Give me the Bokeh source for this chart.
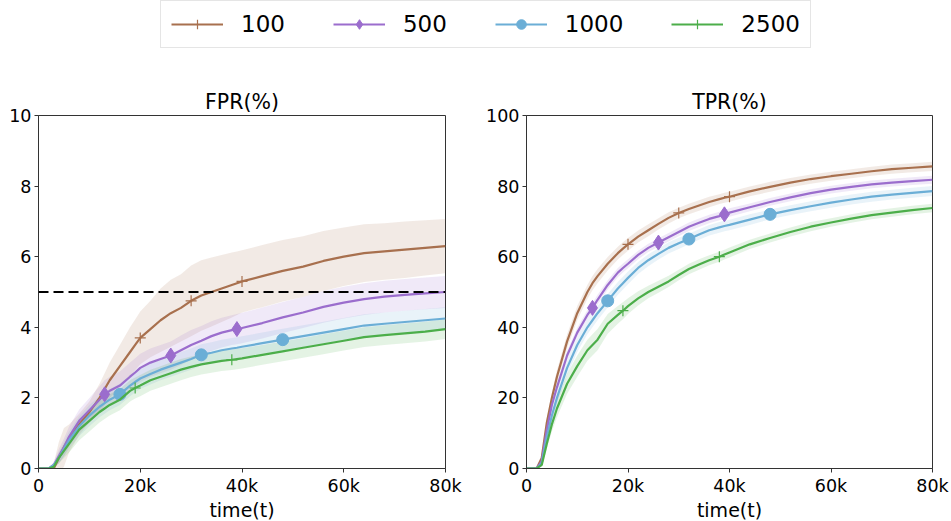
from bokeh.plotting import figure
from bokeh.layouts import column, row
from bokeh.models import Legend, LegendItem, FixedTicker, Span, Range1d
from bokeh.embed import file_html
from bokeh.resources import INLINE

# ---------------- data ----------------
T = [0, 2000, 3000, 4000, 5000, 6000, 8000, 10000, 12000, 13000, 14000, 16000, 18000, 19000,
     20000, 22000, 24000, 26000, 28000, 30000, 32000, 34000, 36000, 38000, 39000, 40000,
     44000, 48000, 52000, 56000, 60000, 64000, 68000, 72000, 76000, 80000]

SERIES = ["100", "500", "1000", "2500"]
COLORS = ["#a8704e", "#9b6dcd", "#6baed6", "#4cae4a"]
MARKERS = ["cross", "diamond", "circle", "cross"]
MARKER_SIZES = [11, 15, 12, 11]
LEGEND_MARKER_SIZES = [14, 20, 15, 14]
MARK_T = [[20000, 30000, 40000], [13000, 26000, 39000], [16000, 32000, 48000], [19000, 38000]]

FPR_100 = [0, 0, 0, 0.3, 0.6, 0.85, 1.25, 1.6, 2.0, 2.25, 2.5, 2.9, 3.3, 3.5, 3.7, 3.95, 4.2, 4.4,
           4.55, 4.75, 4.9, 5.0, 5.1, 5.2, 5.25, 5.3, 5.45, 5.6, 5.72, 5.88, 6.0, 6.1, 6.15, 6.2, 6.25, 6.3]
FPR_100_ERR = [0, 0, 0.15, 0.45, 0.55, 0.4, 0.3, 0.3, 0.4, 0.45, 0.5, 0.6, 0.7, 0.72, 0.75, 0.8, 0.9,
               0.95, 0.95, 1.0, 1.0, 0.98, 0.95, 0.92, 0.9, 0.88, 0.88, 0.87, 0.86, 0.85, 0.83, 0.82,
               0.8, 0.8, 0.78, 0.77]
FPR_500 = [0, 0, 0.1, 0.35, 0.6, 0.9, 1.35, 1.65, 1.95, 2.1, 2.2, 2.35, 2.6, 2.72, 2.85, 3.0, 3.1, 3.2,
           3.35, 3.5, 3.62, 3.75, 3.85, 3.92, 3.95, 3.98, 4.12, 4.28, 4.42, 4.58, 4.7, 4.8, 4.87, 4.92,
           4.96, 5.0]
FPR_500_ERR = [0, 0, 0.1, 0.2, 0.25, 0.28, 0.32, 0.35, 0.38, 0.4, 0.4, 0.4, 0.4, 0.4, 0.4, 0.4, 0.4,
               0.4, 0.42, 0.42, 0.42, 0.42, 0.42, 0.42, 0.43, 0.43, 0.44, 0.44, 0.44, 0.45, 0.45, 0.45,
               0.45, 0.45, 0.45, 0.45]
FPR_1000 = [0, 0, 0.1, 0.3, 0.55, 0.8, 1.2, 1.5, 1.75, 1.85, 1.95, 2.1, 2.35, 2.45, 2.55, 2.68, 2.8,
            2.9, 3.0, 3.1, 3.22, 3.28, 3.35, 3.4, 3.42, 3.45, 3.55, 3.65, 3.75, 3.85, 3.95, 4.05, 4.1,
            4.15, 4.2, 4.25]
FPR_1000_ERR = [0, 0, 0.05, 0.15, 0.2, 0.25, 0.28, 0.3, 0.3, 0.3, 0.3, 0.3, 0.3, 0.3, 0.3, 0.3, 0.3,
                0.3, 0.3, 0.3, 0.3, 0.3, 0.3, 0.3, 0.3, 0.3, 0.3, 0.31, 0.31, 0.31, 0.31, 0.32, 0.32,
                0.32, 0.32, 0.32]
FPR_2500 = [0, 0, 0.05, 0.3, 0.5, 0.7, 1.1, 1.35, 1.6, 1.7, 1.8, 1.95, 2.2, 2.28, 2.35, 2.5, 2.6, 2.7,
            2.8, 2.88, 2.95, 3.0, 3.05, 3.08, 3.1, 3.12, 3.22, 3.32, 3.42, 3.52, 3.62, 3.72, 3.78,
            3.83, 3.88, 3.95]
FPR_2500_ERR = [0, 0, 0.05, 0.15, 0.2, 0.25, 0.3, 0.3, 0.3, 0.3, 0.3, 0.3, 0.3, 0.3, 0.3, 0.3, 0.3,
                0.3, 0.3, 0.29, 0.29, 0.29, 0.29, 0.29, 0.29, 0.29, 0.28, 0.28, 0.28, 0.28, 0.28, 0.28,
                0.28, 0.28, 0.28, 0.28]

TPR_100 = [0, 0, 3, 13, 20, 26, 36, 44, 50, 52.5, 54.5, 58, 61, 62.3, 63.5, 65.7, 67.5, 69.3, 71, 72.4,
           73.5, 74.5, 75.5, 76.3, 76.7, 77, 78.5, 79.8, 81, 82, 82.8, 83.5, 84.2, 84.8, 85.2, 85.6]
TPR_100_ERR = [0, 0, 0.5, 1.2, 1.5, 1.8, 2, 2, 2, 2, 2, 1.9, 1.8, 1.8, 1.8, 1.7, 1.7, 1.6, 1.6, 1.5,
               1.5, 1.5, 1.5, 1.4, 1.4, 1.4, 1.4, 1.4, 1.3, 1.3, 1.3, 1.3, 1.3, 1.3, 1.3, 1.3]
TPR_500 = [0, 0, 2, 11, 18, 23, 32, 38.5, 43.5, 45.5, 47.8, 52, 55.5, 56.8, 58, 60.5, 62.5, 64, 65.5,
           67, 68.5, 69.6, 70.7, 71.5, 72, 72.5, 74, 75.5, 76.8, 78, 79, 79.8, 80.5, 81, 81.4, 81.8]
TPR_500_ERR = [0, 0, 0.5, 1, 1.2, 1.3, 1.4, 1.4, 1.4, 1.4, 1.4, 1.3, 1.3, 1.3, 1.3, 1.2, 1.2, 1.2,
               1.2, 1.2, 1.2, 1.2, 1.2, 1.2, 1.2, 1.2, 1.1, 1.1, 1.1, 1.1, 1.1, 1.1, 1.1, 1.1, 1.1, 1.1]
TPR_1000 = [0, 0, 1.5, 9, 15, 20, 28.5, 35, 40, 42, 44, 47.5, 51, 52.5, 54, 56.8, 59, 60.8, 62.5, 63.8,
            65, 66.3, 67.5, 68.3, 68.7, 69, 70.5, 72, 73.2, 74.3, 75.3, 76.2, 77, 77.6, 78.1, 78.6]
TPR_1000_ERR = [0, 0, 0.5, 1.2, 1.5, 1.8, 2, 2, 2, 2, 2, 1.9, 1.8, 1.8, 1.8, 1.7, 1.7, 1.6, 1.6, 1.6,
                1.5, 1.5, 1.5, 1.5, 1.5, 1.5, 1.5, 1.4, 1.4, 1.4, 1.4, 1.4, 1.4, 1.4, 1.4, 1.4]
TPR_2500 = [0, 0, 1, 7, 12.5, 17, 24, 29, 33.5, 35, 36.5, 41, 43.5, 44.7, 46, 48.2, 50, 51.5, 53, 54.8,
            56.5, 57.8, 59, 60, 60.6, 61.2, 63.5, 65.3, 67, 68.5, 69.7, 70.8, 71.8, 72.5, 73.2, 73.8]
TPR_2500_ERR = [0, 0, 0.5, 1.5, 2, 2.5, 2.8, 3, 3, 3, 3, 2.8, 2.5, 2.4, 2.2, 2, 1.8, 1.7, 1.6, 1.5,
                1.5, 1.5, 1.4, 1.4, 1.4, 1.4, 1.3, 1.3, 1.3, 1.3, 1.2, 1.2, 1.2, 1.2, 1.2, 1.2]

FPR = [FPR_100, FPR_500, FPR_1000, FPR_2500]
FPR_ERR = [FPR_100_ERR, FPR_500_ERR, FPR_1000_ERR, FPR_2500_ERR]
TPR = [TPR_100, TPR_500, TPR_1000, TPR_2500]
TPR_ERR = [TPR_100_ERR, TPR_500_ERR, TPR_1000_ERR, TPR_2500_ERR]

X_TICKS = [0, 20000, 40000, 60000, 80000]
X_TICK_LABELS = ["0", "20k", "40k", "60k", "80k"]
FPR_TICKS = [0, 2, 4, 6, 8, 10]
TPR_TICKS = [0, 20, 40, 60, 80, 100]
FPR_THRESHOLD = 5

FONT = "DejaVu Sans"
FRAME_H = 353


def style(p, yticks):
    p.xgrid.visible = False
    p.ygrid.visible = False
    p.outline_line_color = "#333333"
    p.outline_line_width = 1
    p.outline_line_alpha = 1
    p.title.align = "center"
    p.title.text_font = FONT
    p.title.text_font_size = "20.5px"
    p.title.text_font_style = "normal"
    p.title.text_color = "black"
    p.title.standoff = 3
    p.xaxis.ticker = FixedTicker(ticks=X_TICKS)
    p.xaxis.major_label_overrides = {t: l for t, l in zip(X_TICKS, X_TICK_LABELS)}
    p.yaxis.ticker = FixedTicker(ticks=yticks)
    p.xaxis.axis_label = "time(t)"
    for ax in (p.xaxis[0], p.yaxis[0]):
        ax.major_label_text_font = FONT
        ax.major_label_text_font_size = "17.5px"
        ax.major_label_text_color = "black"
        ax.axis_label_text_font = FONT
        ax.axis_label_text_font_size = "19px"
        ax.axis_label_text_font_style = "normal"
        ax.axis_label_text_color = "black"
        ax.axis_label_standoff = 0
        ax.major_label_standoff = 3
        ax.major_tick_out = 4
        ax.major_tick_in = 0
        ax.minor_tick_line_color = None
        ax.axis_line_color = "#333333"
        ax.major_tick_line_color = "#333333"


def make_panel(title, ymax, yticks, vals, errs, fw, mbl, mbr, threshold=None):
    p = figure(frame_width=fw, frame_height=FRAME_H, x_range=Range1d(0, 80000), y_range=Range1d(0, ymax),
               output_backend="svg", toolbar_location=None, title=title,
               min_border_left=mbl, min_border_right=mbr, min_border_top=51, min_border_bottom=53)
    style(p, yticks)
    for i in range(len(SERIES)):
        lo = [v - e for v, e in zip(vals[i], errs[i])]
        hi = [v + e for v, e in zip(vals[i], errs[i])]
        p.varea(x=T, y1=lo, y2=hi, fill_color=COLORS[i], fill_alpha=0.15)
    for i in range(len(SERIES)):
        p.line(T, vals[i], line_color=COLORS[i], line_width=2.2)
        mx = [t for t in T if t in MARK_T[i]]
        my = [v for t, v in zip(T, vals[i]) if t in MARK_T[i]]
        if MARKERS[i] == "cross":
            p.scatter(mx, my, marker="cross", size=MARKER_SIZES[i], line_color=COLORS[i], line_width=1.2)
        else:
            p.scatter(mx, my, marker=MARKERS[i], size=MARKER_SIZES[i], fill_color=COLORS[i],
                      line_color=COLORS[i], line_width=1)
    if threshold is not None:
        p.add_layout(Span(location=threshold, dimension="width", line_color="black",
                          line_dash="10 5", line_width=2))
    return p


p1 = make_panel("FPR(%)", 10, FPR_TICKS, FPR, FPR_ERR, 407, 38, 35, threshold=FPR_THRESHOLD)
p2 = make_panel("TPR(%)", 100, TPR_TICKS, TPR, TPR_ERR, 406, 46, 19)

# legend figure
LEG_H = 64
lf = figure(width=951, height=LEG_H, x_range=Range1d(0, 1), y_range=Range1d(0, 1),
            output_backend="svg", toolbar_location=None, min_border=0)
lf.axis.visible = False
lf.grid.visible = False
lf.outline_line_color = None
items = []
for i, s in enumerate(SERIES):
    lr = lf.line(x=[5, 6], y=[5, 6], line_color=COLORS[i], line_width=2.2)
    if MARKERS[i] == "cross":
        sr = lf.scatter(x=[5], y=[5], marker="cross", size=LEGEND_MARKER_SIZES[i], line_color=COLORS[i],
                        line_width=1.2)
    else:
        sr = lf.scatter(x=[5], y=[5], marker=MARKERS[i], size=LEGEND_MARKER_SIZES[i], fill_color=COLORS[i],
                        line_color=COLORS[i])
    items.append(LegendItem(label=s, renderers=[lr, sr]))
leg = Legend(items=items, orientation="horizontal", location=(160, LEG_H - 48),
             label_text_font=FONT, label_text_font_size="23px", label_text_color="black",
             glyph_width=52, glyph_height=24, label_standoff=18, spacing=48, padding=10, margin=0,
             border_line_color="#cccccc", border_line_width=1.5, background_fill_alpha=1)
lf.add_layout(leg, "center")

layout = column(lf, row(p1, p2))
open("out.html", "w").write(file_html(layout, INLINE))
